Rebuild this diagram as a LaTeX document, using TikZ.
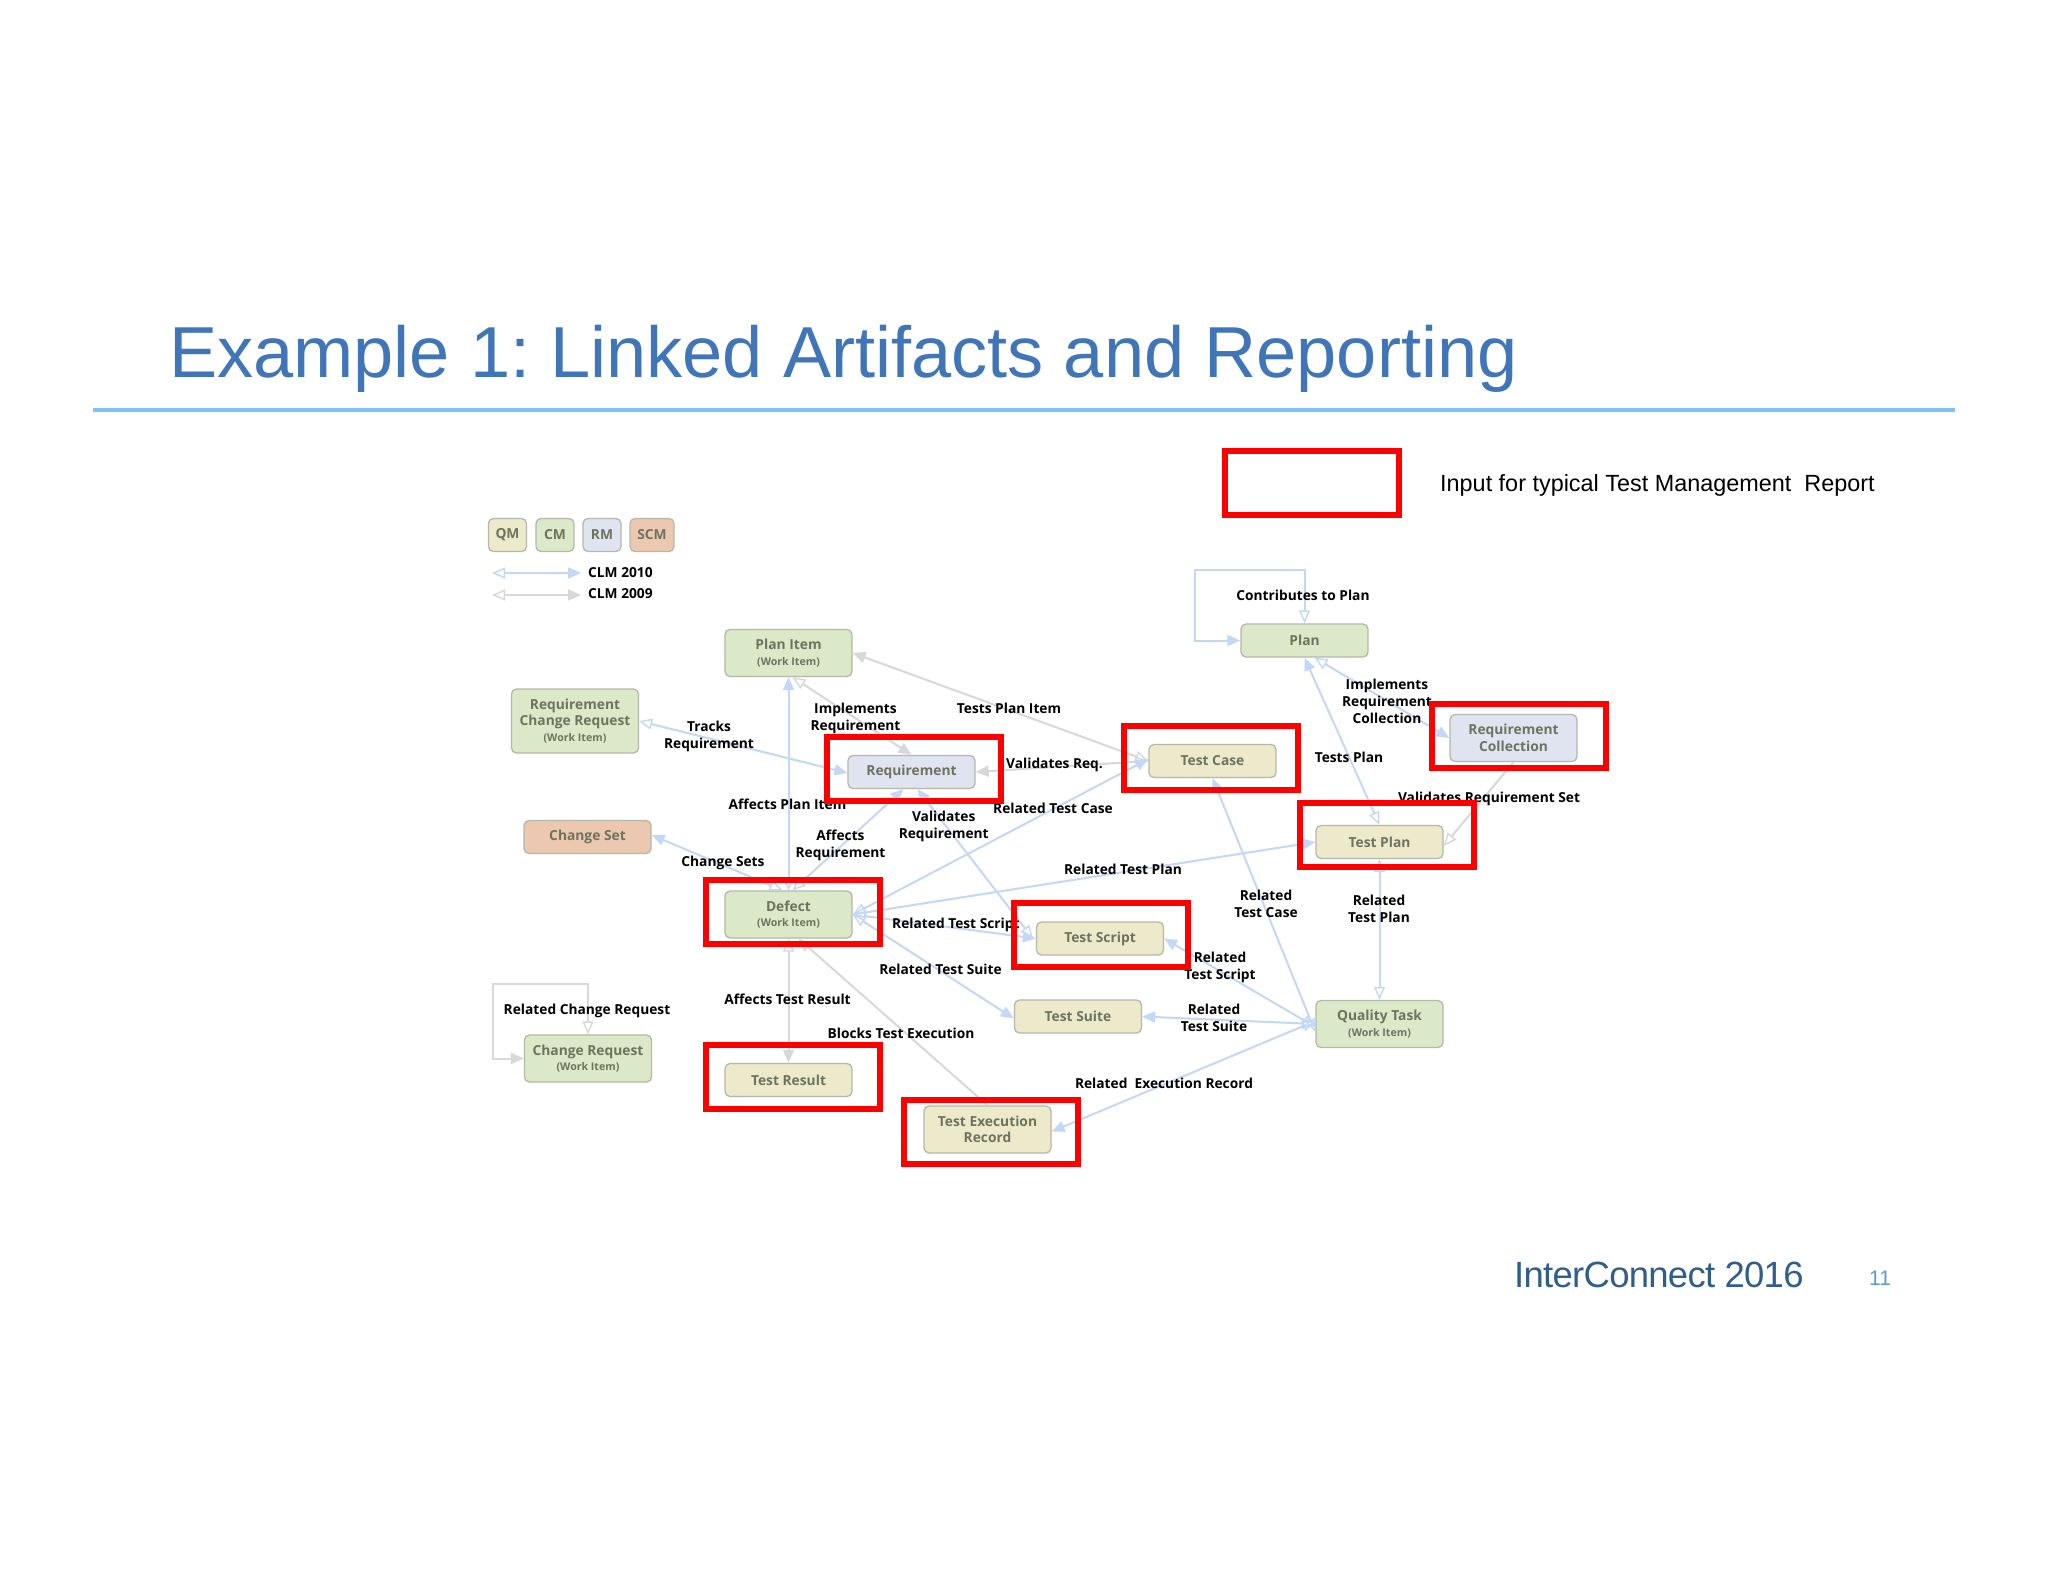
\documentclass[tikz,border=0pt]{standalone}
\usepackage{fontspec}
\setmainfont{Liberation Sans}
\newfontfamily\lblfont{Open Sans}
\newfontfamily\brandfont[LetterSpace=-2]{Liberation Sans}
\usetikzlibrary{arrows.meta}
\definecolor{titleblue}{HTML}{4076B8}
\definecolor{rulesky}{HTML}{7FC1F7}
\definecolor{brandblue}{HTML}{2F5E8C}
\definecolor{pagenum}{HTML}{5B9BD5}
\definecolor{linkblue}{HTML}{C3D7F6}
\definecolor{linkgrey}{HTML}{D8D8D8}
\definecolor{qmfill}{HTML}{ECEACB}
\definecolor{cmfill}{HTML}{DCE9C8}
\definecolor{rmfill}{HTML}{DFE4F0}
\definecolor{scmfill}{HTML}{EDC8B0}
\definecolor{boxedge}{HTML}{B4B8A8}
\definecolor{boxtext}{HTML}{6E7360}
\tikzset{
  ho/.tip={Triangle[open,length=13pt,width=11pt,line width=1.4pt]},
  fi/.tip={Triangle[length=13pt,width=11pt]},
  artefact/.style={draw=boxedge,line width=1.3pt,rounded corners=5pt,inner sep=0pt,align=center,
    text=boxtext,font=\lblfont\bfseries\fontsize{13.8}{16.5}\selectfont,minimum height=33pt,minimum width=127pt},
  tall/.style={minimum height=47pt},
  qmbox/.style={artefact,fill=qmfill},
  cmbox/.style={artefact,fill=cmfill},
  rmbox/.style={artefact,fill=rmfill},
  scmbox/.style={artefact,fill=scmfill},
  keybox/.style={minimum width=38pt},
  blue link/.style={draw=linkblue,line width=2pt},
  grey link/.style={draw=linkgrey,line width=2pt},
  lbl/.style={text=black,align=center,inner sep=0pt,yshift=-1pt,font=\lblfont\bfseries\fontsize{13.75}{17}\selectfont},
  redbox/.style={draw=red,line width=6pt,inner sep=0pt,fill=none},
}
\newcommand{\wi}{\\[-1pt]{\fontsize{10.6}{12}\selectfont (Work Item)}}
\frenchspacing
\begin{document}
\begin{tikzpicture}[x=1pt,y=-1pt]
\useasboundingbox (0,0) rectangle (2048,1582);
\fill[white] (0,0) rectangle (2048,1582);

% heading
\node[anchor=west,inner sep=0pt,text=titleblue,font=\fontsize{72.2}{80}\selectfont] (title) at (169,359) {Example 1: Linked Artifacts and Reporting};
\coordinate (ruleL) at (93,410);
\coordinate (ruleR) at (1955,410);
\draw[rulesky,line width=4.5pt] (ruleL) -- (ruleR);
\node[anchor=west,inner sep=0pt,font=\fontsize{23.4}{28}\selectfont] (inputtxt) at (1440,485) {Input for typical Test Management\ \ Report};
\node[anchor=west,inner sep=0pt,text=brandblue,font=\brandfont\fontsize{36.5}{40}\selectfont] (brand) at (1514,1275) {InterConnect 2016};
\node[anchor=west,inner sep=0pt,text=pagenum,font=\fontsize{21}{26}\selectfont] (pageno) at (1869,1278) {11};

% key
\node[qmbox,keybox,minimum height=33pt] (kq) at (507.5,535) {QM};
\node[cmbox,keybox,minimum height=33pt] (kc) at (555,535) {CM};
\node[rmbox,keybox,minimum height=33pt] (kr) at (602,535) {RM};
\node[scmbox,keybox,minimum width=44pt,minimum height=33pt] (ks) at (652,535) {SCM};
\node[lbl,anchor=west] (k10) at (588,572) {CLM 2010};
\node[lbl,anchor=west] (k09) at (588,593) {CLM 2009};
\coordinate (kb1) at (492,573); \coordinate (kb2) at (581,573);
\coordinate (kg1) at (492,595); \coordinate (kg2) at (581,595);
\draw[blue link,{ho}-{fi}] (kb1) -- (kb2);
\draw[grey link,{ho}-{fi}] (kg1) -- (kg2);

% artefacts
\node[cmbox,tall] (planitem) at (788.5,653) {Plan Item\wi};
\node[cmbox,minimum height=64pt] (rcr) at (575,721) {Requirement\\Change Request\wi};
\node[rmbox] (req) at (911.5,772) {Requirement};
\node[scmbox] (cset) at (587.5,837) {Change Set};
\node[cmbox,tall] (defect) at (788.5,914.5) {Defect\wi};
\node[cmbox,tall] (creq) at (588,1058.5) {Change Request\wi};
\node[qmbox] (tresult) at (788.5,1080) {Test Result};
\node[qmbox,tall] (texec) at (987.5,1129.5) {Test Execution\\Record};
\node[cmbox] (plan) at (1304.5,640.5) {Plan};
\node[rmbox,tall] (rcoll) at (1513.5,738) {Requirement\\Collection};
\node[qmbox] (tcase) at (1212.5,761) {Test Case};
\node[qmbox] (tplan) at (1379.5,842) {Test Plan};
\node[qmbox] (tscript) at (1100,938.5) {Test Script};
\node[qmbox] (tsuite) at (1078,1016.5) {Test Suite};
\node[cmbox,tall] (qtask) at (1379.5,1024) {Quality Task\wi};

% links
\coordinate (planTL) at (1195,570);
\draw[blue link,{ho}-{fi}] (plan.north) |- (planTL) |- (plan.west);
\draw[blue link,{fi}-{ho}] (plan.south) -- (tplan.north);
\draw[blue link,{ho}-{fi}] ([xshift=10pt]plan.south) -- (rcoll.west);
\draw[grey link,-{ho}] (rcoll.south) -- ([yshift=-4pt]tplan.east);
\draw[blue link,{fi}-{ho}] (planitem.south) -- (defect.north);
\draw[grey link,{ho}-{fi}] ([xshift=4pt]planitem.south) -- (req.north);
\draw[grey link,{fi}-{ho}] (planitem.east) -- (tcase.west);
\draw[blue link,{ho}-{fi}] (rcr.east) -- ([yshift=-1pt]req.west);
\draw[grey link,{fi}-{ho}] (req.east) -- (tcase.west);
\draw[blue link,{fi}-{ho}] ([yshift=2pt]cset.east) -- ([xshift=-6pt]defect.north);
\draw[blue link,{fi}-{ho}] ([xshift=-8pt]req.south) -- ([xshift=4pt]defect.north);
\draw[blue link,{fi}-{ho}] ([xshift=6pt]req.south) -- ([xshift=-3pt]tscript.west);
\draw[blue link,{fi}-{ho}] ([yshift=2pt]tcase.west) -- (defect.east);
\draw[blue link,{fi}-{ho}] (tplan.west) -- (defect.east);
\draw[blue link,{fi}-{ho}] (tscript.west) -- (defect.east);
\draw[blue link,{fi}-{ho}] ([yshift=-2pt]tsuite.west) -- (defect.east);
\draw[blue link,{fi}-{ho}] (tcase.south) -- ([yshift=-8pt]qtask.west);
\draw[blue link,{fi}-{ho}] (tplan.south) -- (qtask.north);
\draw[blue link,{fi}-{ho}] (tscript.east) -- ([yshift=-3pt]qtask.west);
\draw[blue link,{fi}-{ho}] (tsuite.east) -- (qtask.west);
\draw[blue link,{fi}-{ho}] ([yshift=-2pt]texec.east) -- ([yshift=3pt]qtask.west);
\draw[grey link,{ho}-{fi}] (defect.south) -- (tresult.north);
\draw[grey link,{ho}-] ([xshift=10pt]defect.south) -- (texec.north);
\coordinate (crTL) at (493,984);
\draw[grey link,{ho}-{fi}] (creq.north) |- (crTL) |- (creq.west);

% connector labels
\node[lbl] (l1) at (709,735.5) {Tracks\\Requirement};
\node[lbl] (l2) at (855.5,717) {Implements\\Requirement};
\node[lbl] (l3) at (1009,707) {Tests Plan Item};
\node[lbl] (l4) at (787.5,803) {Affects Plan Item};
\node[lbl] (l5) at (840.5,844) {Affects\\Requirement};
\node[lbl] (l6) at (943.7,825.5) {Validates\\Requirement};
\node[lbl] (l7) at (723,862) {Change Sets};
\node[lbl,anchor=west] (l8) at (892,924) {Related Test Script};
\node[lbl] (l9) at (940.5,968) {Related Test Suite};
\node[lbl] (l10) at (1053,807) {Related Test Case};
\node[lbl] (l11) at (1123,868) {Related Test Plan};
\node[lbl] (l12) at (1054.5,764) {Validates Req.};
\node[lbl] (l13) at (1303,594) {Contributes to Plan};
\node[lbl] (l14) at (1387,700) {Implements\\Requirement\\Collection};
\node[lbl] (l15) at (1349,756) {Tests Plan};
\node[lbl] (l16) at (1489,798) {Validates Requirement Set};
\node[lbl] (l17) at (1266,903) {Related\\Test Case};
\node[lbl] (l18) at (1379,908) {Related\\Test Plan};
\node[lbl] (l19) at (1220,966.5) {Related\\Test Script};
\node[lbl] (l20) at (1214,1016.5) {Related\\Test Suite};
\node[lbl] (l21) at (1164,1082) {Related\ \ Execution Record};
\node[lbl] (l22) at (587,1010) {Related Change Request};
\node[lbl] (l23) at (787.5,998) {Affects Test Result};
\node[lbl] (l24) at (901,1032) {Blocks Test Execution};

% red highlight frames
\node[redbox,minimum width=174pt,minimum height=64pt] (r0) at (1312,483) {};
\node[redbox,minimum width=174pt,minimum height=64pt] (r1) at (914.3,769) {};
\node[redbox,minimum width=174pt,minimum height=64pt] (r2) at (793.3,912) {};
\node[redbox,minimum width=174pt,minimum height=64pt] (r3) at (793.3,1077) {};
\node[redbox,minimum width=174pt,minimum height=64pt] (r4) at (991.3,1132) {};
\node[redbox,minimum width=174pt,minimum height=64pt] (r5) at (1211,758) {};
\node[redbox,minimum width=174pt,minimum height=64pt] (r6) at (1519,736) {};
\node[redbox,minimum width=174pt,minimum height=64pt] (r7) at (1387,835) {};
\node[redbox,minimum width=174pt,minimum height=64pt] (r8) at (1101,934.5) {};
\end{tikzpicture}
\end{document}
